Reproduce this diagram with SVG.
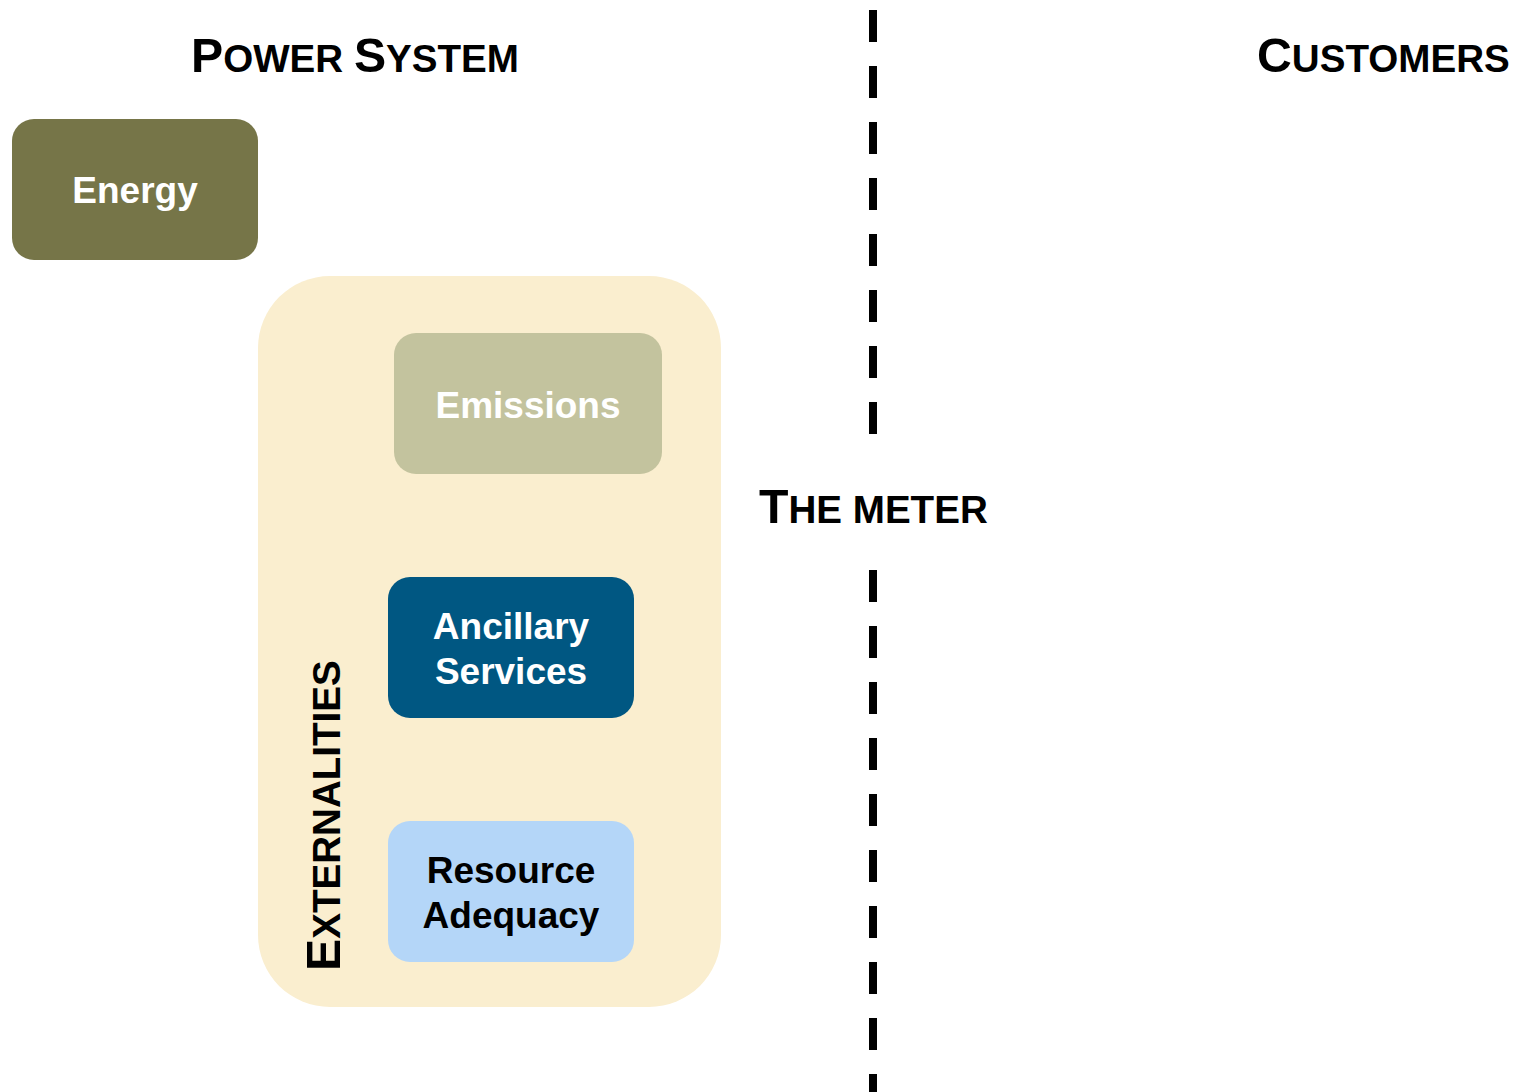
<svg xmlns="http://www.w3.org/2000/svg" width="1514" height="1092" viewBox="0 0 1514 1092">
<style>
.t{font-family:"Liberation Sans",Arial,sans-serif;font-weight:bold;}
.title{font-size:48.2px;fill:#000;}
.sc{font-size:38.6px;}
.lbl{font-size:37px;text-anchor:middle;}
.w{fill:#fff;}
.k{fill:#000;}
.meter{stroke:#000;stroke-width:8;stroke-dasharray:32 24;fill:none;}
</style>
<rect width="1514" height="1092" fill="#fff"/>
<g id="meter-line">
<line class="meter" x1="873" y1="10" x2="873" y2="440"/>
<line class="meter" x1="873" y1="570" x2="873" y2="1092"/>
</g>
<g id="title-power-system"><text class="t title" x="191" y="72">P<tspan class="sc">OWER </tspan>S<tspan class="sc">YSTEM</tspan></text></g>
<g id="title-customers"><text class="t title" x="1257" y="72">C<tspan class="sc">USTOMERS</tspan></text></g>
<g id="title-meter"><text class="t title" x="759" y="523">T<tspan class="sc">HE METER</tspan></text></g>
<g id="energy">
<rect x="12" y="119" width="246" height="141" rx="22" fill="#767548"/>
<text class="t lbl w" x="135" y="203">Energy</text>
</g>
<g id="externalities">
<rect x="258" y="276" width="463" height="731" rx="72" fill="#FAEECF"/>
<text class="t title" transform="translate(340 971) rotate(-90)">E<tspan class="sc">XTERNALITIES</tspan></text>
</g>
<g id="emissions">
<rect x="394" y="333" width="268" height="141" rx="22" fill="#C3C39E"/>
<text class="t lbl w" x="528" y="418">Emissions</text>
</g>
<g id="ancillary">
<rect x="388" y="577" width="246" height="141" rx="22" fill="#005782"/>
<text class="t lbl w" x="511" y="639">Ancillary</text>
<text class="t lbl w" x="511" y="684">Services</text>
</g>
<g id="resource">
<rect x="388" y="821" width="246" height="141" rx="22" fill="#B4D6F8"/>
<text class="t lbl k" x="511" y="883">Resource</text>
<text class="t lbl k" x="511" y="928">Adequacy</text>
</g>
</svg>
